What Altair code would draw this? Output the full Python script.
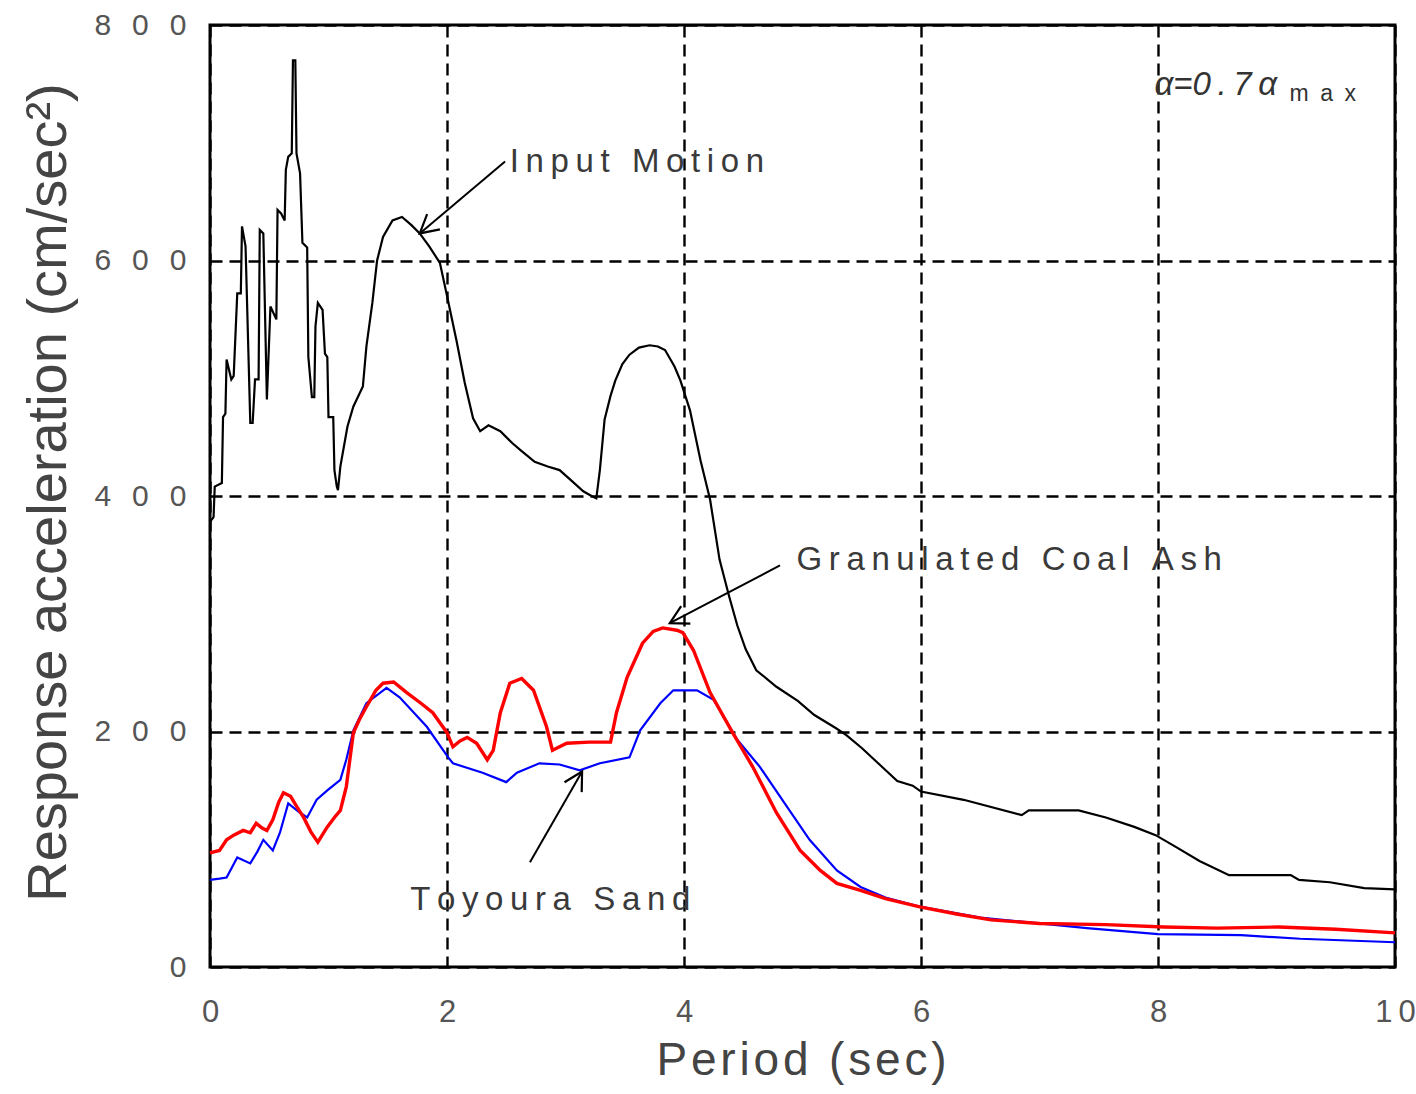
import math
import altair as alt
import pandas as pd

# Response spectra: period (sec) and response acceleration (cm/sec^2)
input_T = [0.00, 0.03, 0.04, 0.10, 0.11, 0.13, 0.14, 0.18, 0.20, 0.23, 0.26, 0.27, 0.30, 0.34,
           0.36, 0.38, 0.41, 0.42, 0.45, 0.48, 0.51, 0.56, 0.57, 0.60, 0.63, 0.64, 0.66, 0.69,
           0.70, 0.72, 0.73, 0.76, 0.78, 0.82, 0.83, 0.86, 0.88, 0.89, 0.91, 0.95, 0.97, 0.99,
           1.00, 1.04, 1.05, 1.07, 1.08, 1.10, 1.16, 1.21, 1.29, 1.32, 1.37, 1.41, 1.46, 1.54,
           1.62, 1.70, 1.77, 1.85, 1.94, 2.00, 2.08, 2.15, 2.22, 2.28, 2.35, 2.45, 2.55, 2.62,
           2.74, 2.85, 2.95, 3.05, 3.15, 3.22, 3.26, 3.29, 3.33, 3.38, 3.42, 3.48, 3.54, 3.62,
           3.71, 3.78, 3.84, 3.92, 3.97, 4.05, 4.14, 4.22, 4.30, 4.38, 4.45, 4.52, 4.61, 4.78,
           4.96, 5.10, 5.28, 5.37, 5.50, 5.65, 5.80, 5.93, 6.00, 6.36, 6.85, 6.91, 7.33, 7.56,
           7.80, 7.98, 8.15, 8.35, 8.60, 9.12, 9.19, 9.45, 9.74, 10.00]
input_A = [378, 382, 408, 411, 467, 470, 516, 499, 502, 572, 572, 629, 612, 462,
           462, 499, 499, 626, 623, 482, 561, 550, 643, 640, 634, 677, 688, 691,
           770, 770, 691, 674, 615, 611, 518, 484, 484, 544, 564, 558, 521, 518,
           467, 467, 422, 408, 405, 425, 459, 476, 493, 527, 564, 600, 620, 634,
           637, 630, 623, 612, 598, 570, 532, 496, 466, 455, 460, 455, 445, 439,
           429, 425, 422, 413, 404, 400, 398, 422, 465, 485, 498, 512, 520, 526,
           528, 527, 524, 510, 498, 473, 430, 397, 346, 315, 290, 270, 252, 238,
           226, 214, 203, 197, 186, 172, 158, 154, 149, 142, 129, 133, 133, 127,
           119, 112, 102, 90, 78, 78, 74, 72, 67, 66]

coal_T = [0.00, 0.08, 0.14, 0.20, 0.28, 0.34, 0.39, 0.44, 0.48, 0.53, 0.58, 0.62, 0.68, 0.74,
          0.79, 0.85, 0.91, 0.99, 1.05, 1.10, 1.15, 1.21, 1.26, 1.32, 1.40, 1.46, 1.55, 1.66,
          1.78, 1.88, 2.00, 2.05, 2.11, 2.17, 2.25, 2.34, 2.39, 2.45, 2.53, 2.63, 2.73, 2.84,
          2.89, 2.95, 3.01, 3.20, 3.38, 3.43, 3.52, 3.65, 3.74, 3.82, 3.94, 3.99, 4.08, 4.22,
          4.41, 4.58, 4.78, 4.98, 5.15, 5.29, 5.49, 5.70, 5.99, 6.30, 6.59, 7.00, 7.56, 8.05,
          8.50, 9.02, 9.50, 10.00]
coal_A = [97, 99, 108, 112, 116, 114, 122, 118, 116, 125, 140, 148, 145, 135,
          127, 115, 106, 119, 127, 133, 153, 199, 210, 221, 235, 241, 242, 233,
          224, 216, 199, 187, 192, 195, 190, 176, 184, 216, 241, 245, 235, 204,
          184, 187, 190, 191, 191, 216, 246, 275, 285, 288, 286, 284, 269, 233,
          199, 170, 131, 99, 82, 71, 65, 58, 51, 45, 40, 37, 36, 34,
          33, 34, 32, 29]

sand_T = [0.00, 0.08, 0.14, 0.23, 0.34, 0.40, 0.45, 0.53, 0.59, 0.66, 0.76, 0.82, 0.90, 0.99,
          1.10, 1.15, 1.21, 1.32, 1.49, 1.60, 1.83, 2.01, 2.05, 2.30, 2.50, 2.59, 2.78, 2.95,
          3.12, 3.29, 3.54, 3.63, 3.80, 3.91, 4.11, 4.25, 4.45, 4.64, 4.87, 5.06, 5.29, 5.49,
          5.70, 6.00, 6.50, 7.00, 7.40, 8.00, 8.70, 9.20, 10.00]
sand_A = [74, 75, 76, 93, 88, 98, 108, 99, 114, 139, 131, 127, 142, 150,
          159, 176, 201, 224, 237, 229, 204, 178, 173, 165, 157, 165, 173, 172,
          167, 173, 178, 201, 224, 235, 235, 227, 193, 170, 136, 108, 82, 68,
          59, 51, 42, 37, 33, 28, 27, 24, 21]

x_ticks = [0, 2, 4, 6, 8, 10]
y_ticks = [0, 200, 400, 600, 800]

# Annotation arrows: (tail period, tail accel, tip period, tip accel)
arrows = [
    (2.49, 684, 1.77, 623),
    (4.81, 341, 3.88, 292),
    (2.70, 89, 3.14, 166),
]
labels = ["Input Motion", "Granulated Coal Ash", "Toyoura Sand"]
label_T = [2.53, 4.95, 1.69]
label_A = [684, 346, 57]

FONT = "Liberation Sans"
W, H = 1185, 942
PX_T = W / 10.0
PX_A = H / 800.0


def spaced(s, sep="\u2009"):
    return sep.join(s)


def series_df(T, A):
    return pd.DataFrame({"T": T, "A": A, "i": range(len(T))})


x_enc = alt.X("T:Q", scale=alt.Scale(domain=[0, 10], nice=False), title=spaced("Period (sec)", "\u200a"),
              axis=alt.Axis(values=x_ticks, grid=True, gridDash=[12, 7], gridColor="black",
                            gridWidth=2.4, ticks=False, domain=False, labelFont=FONT,
                            labelFontSize=31, labelColor="#555555", labelPadding=30,
                            labelFlush=False, labelOverlap=False,
                            labelExpr="datum.value == 10 ? '1\u20090' : format(datum.value, 'd')",
                            titleFont=FONT, titleFontSize=46, titleFontWeight="normal",
                            titleColor="#444444", titleX=591, titleY=93,
                            titleBaseline="middle", titleAlign="center"))

y_expr = " : ".join(
    f"datum.value == {v} ? '{spaced(str(v), chr(0x2002) + chr(0x2009))}'" for v in y_ticks[1:]
) + " : '0'"

y_enc = alt.Y("A:Q", scale=alt.Scale(domain=[0, 800], nice=False),
              title="Response acceleration (cm/sec\u00b2)",
              axis=alt.Axis(values=y_ticks, grid=True, gridDash=[12, 7], gridColor="black",
                            gridWidth=2.4, ticks=False, domain=False, labelFont=FONT,
                            labelFontSize=30, labelColor="#555555", labelPadding=24,
                            labelFlush=False, labelOverlap=False,
                            labelExpr=y_expr,
                            titleFont=FONT, titleFontSize=56, titleFontWeight="normal",
                            titleColor="#444444", titleX=-162, titleY=467,
                            titleBaseline="middle", titleAlign="center", titleAngle=-90))

base_input = alt.Chart(series_df(input_T, input_A)).mark_line(
    color="black", strokeWidth=2.2, interpolate="linear"
).encode(x=x_enc, y=y_enc, order="i:Q")

line_sand = alt.Chart(series_df(sand_T, sand_A)).mark_line(
    color="#0000ff", strokeWidth=2.2
).encode(x="T:Q", y="A:Q", order="i:Q")

line_coal = alt.Chart(series_df(coal_T, coal_A)).mark_line(
    color="#ff0000", strokeWidth=3.4
).encode(x="T:Q", y="A:Q", order="i:Q")

# Arrow shafts and heads
shaft_rows = []
head_rows = []
for k, (t0, a0, t1, a1) in enumerate(arrows):
    shaft_rows.append({"k": k, "T": t0, "A": a0, "i": 0})
    shaft_rows.append({"k": k, "T": t1, "A": a1, "i": 1})
    dx = (t1 - t0) * PX_T
    dy = -(a1 - a0) * PX_A
    ang = math.degrees(math.atan2(dx, -dy)) % 360
    head_rows.append({"T": t1, "A": a1, "ang": ang})

shafts = alt.Chart(pd.DataFrame(shaft_rows)).mark_line(
    color="black", strokeWidth=2
).encode(x="T:Q", y="A:Q", detail="k:N", order="i:Q")

heads = alt.Chart(pd.DataFrame(head_rows)).mark_point(
    shape="M -0.55 1 L 0 0 L 0.55 1", filled=False, color="black",
    strokeWidth=2.2, size=1300, opacity=1
).encode(x="T:Q", y="A:Q", angle=alt.Angle("ang:Q", scale=None))

texts = alt.Chart(pd.DataFrame({
    "T": label_T, "A": label_A, "txt": [spaced(s) for s in labels]
})).mark_text(
    font=FONT, fontSize=33, align="left", baseline="middle", color="#3a3a3a"
).encode(x="T:Q", y="A:Q", text="txt:N")

alpha_main = alt.Chart(pd.DataFrame({
    "T": [7.97], "A": [749], "txt": ["\u03b1=0\u2009.\u20097\u2009\u03b1"]
})).mark_text(
    font=FONT, fontSize=33, fontStyle="italic", align="left", baseline="middle", color="#333333"
).encode(x="T:Q", y="A:Q", text="txt:N")

alpha_sub = alt.Chart(pd.DataFrame({"T": [9.11], "A": [741], "txt": [spaced("max", "\u2002")]})).mark_text(
    font=FONT, fontSize=23, align="left", baseline="middle", color="#333333"
).encode(x="T:Q", y="A:Q", text="txt:N")

chart = alt.layer(
    base_input, line_sand, line_coal, shafts, heads, texts, alpha_main, alpha_sub
).properties(
    width=W, height=H,
    autosize=alt.AutoSizeParams(type="none"),
    padding={"left": 210, "top": 25, "right": 21, "bottom": 127},
    background="white",
).configure_view(
    stroke="black", strokeWidth=3
)

chart.save("out.html", embed_options={"renderer": "svg", "actions": False})
